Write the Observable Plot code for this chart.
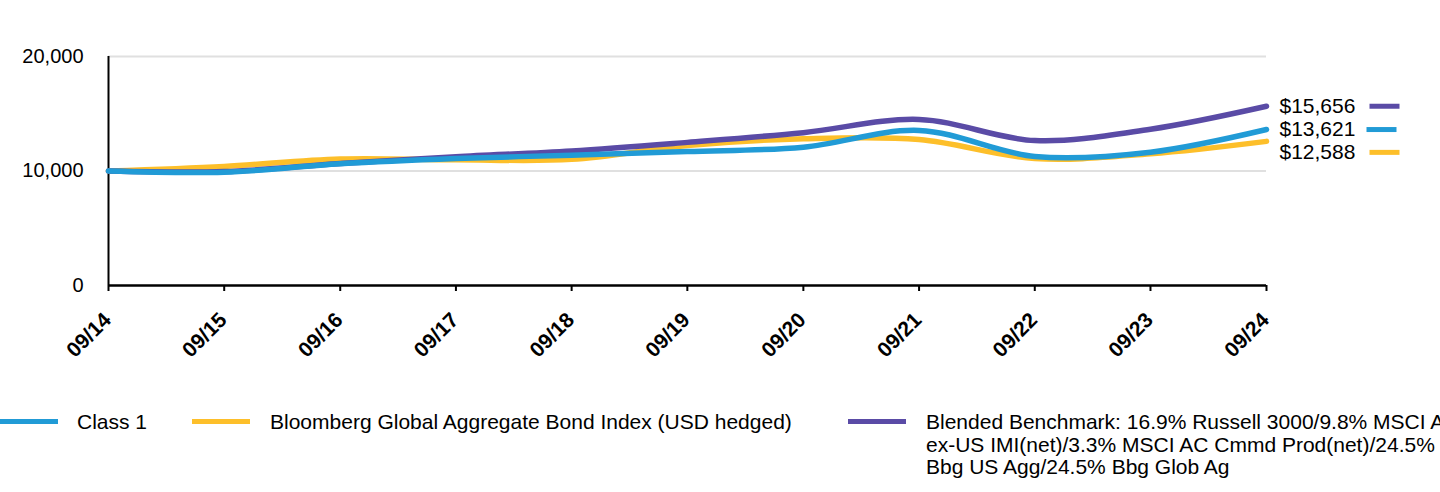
<!DOCTYPE html>
<html>
<head>
<meta charset="utf-8">
<script src="https://cdn.jsdelivr.net/npm/d3@7"></script>
<script src="https://cdn.jsdelivr.net/npm/@observablehq/plot@0.6"></script>
<style>
  html, body { margin: 0; padding: 0; background: #fff; }
  body { width: 1440px; height: 492px; overflow: hidden; position: relative; font-family: "Liberation Sans", Arial, sans-serif; }
  #chart { position: absolute; left: 0; top: 0; }
  .leg { position: absolute; font-size: 21px; line-height: 22.5px; color: #000; white-space: nowrap; }
  .sw { position: absolute; height: 5px; }
</style>
</head>
<body>
<div id="chart"></div>
<div class="sw" style="left:0px; top:419px; width:58px; background:#219bd6;"></div>
<div class="leg" style="left:77px; top:411px;">Class 1</div>
<div class="sw" style="left:192px; top:419px; width:58px; background:#fdbf2a;"></div>
<div class="leg" style="left:270px; top:411px;">Bloomberg Global Aggregate Bond Index (USD hedged)</div>
<div class="sw" style="left:848px; top:419px; width:58px; background:#5a4ba6;"></div>
<div class="leg" style="left:926px; top:411px;">Blended Benchmark: 16.9% Russell 3000/9.8% MSCI ACWI<br>ex-US IMI(net)/3.3% MSCI AC Cmmd Prod(net)/24.5%<br>Bbg US Agg/24.5% Bbg Glob Ag</div>
<script>
const dates = ["2014-09-30","2015-09-30","2016-09-30","2017-09-30","2018-09-30","2019-09-30","2020-09-30","2021-09-30","2022-09-30","2023-09-30","2024-09-30"];
const class1 =    [10000, 9900, 10630, 11090, 11380, 11700, 12080, 13540, 11270, 11640, 13621];
const bloomberg = [10000, 10400, 11050, 10980, 11020, 12230, 12810, 12750, 11090, 11500, 12588];
const blended =   [10000, 9950, 10650, 11250, 11750, 12500, 13350, 14500, 12660, 13650, 15656];
const yTicks = [0, 10000, 20000];
const seriesNames = ["Class 1", "Bloomberg Global Aggregate Bond Index (USD hedged)", "Blended Benchmark"];
const colors = ["#219bd6", "#fdbf2a", "#5a4ba6"];

const parse = d3.utcParse("%Y-%m-%d");
const X = dates.map(parse);
const toRows = (vals) => vals.map((v, i) => ({date: X[i], value: v}));
const rowsC = toRows(class1), rowsB = toRows(bloomberg), rowsBl = toRows(blended);
const last = (rows) => [rows[rows.length - 1]];

const barSymbol = { draw(ctx, size) { ctx.moveTo(-15, 0); ctx.lineTo(15, 0); } };
const fmtMoney = (v) => "$" + d3.format(",")(v);
const fmtTick = d3.utcFormat("%m/%y");

const chart = Plot.plot({
  width: 1440,
  height: 385,
  marginLeft: 108,
  marginRight: 174,
  marginTop: 56,
  marginBottom: 100,
  style: { fontFamily: "Liberation Sans, Arial, sans-serif", background: "#fff", color: "#000" },
  x: { type: "utc", domain: [X[0], X[X.length - 1]] },
  y: { domain: [0, 20000] },
  marks: [
    Plot.ruleY([10000, 20000], { x1: X[0], x2: X[X.length - 1], stroke: "#e0e0e0", strokeWidth: 2 }),
    Plot.ruleX([X[0]], { y1: 0, y2: 20000, stroke: "#000", strokeWidth: 2 }),
    Plot.ruleY([0], { x1: X[0], x2: X[X.length - 1], stroke: "#000", strokeWidth: 2.5 }),
    Plot.axisY({ ticks: yTicks, tickSize: 0, tickPadding: 25, tickFormat: d3.format(","), fontSize: 20, label: null }),
    Plot.axisX({ ticks: X, tickSize: 6, text: null, label: null, strokeWidth: 2 }),
    Plot.text(X, { x: d => d, y: () => 0, text: d => fmtTick(d), rotate: -45, textAnchor: "end", dx: -1, dy: 31, fontSize: 21, fontWeight: "bold", fill: "#000" }),
    Plot.line(rowsB, { x: "date", y: "value", stroke: colors[1], strokeWidth: 5.5, curve: "catmull-rom" }),
    Plot.line(rowsBl, { x: "date", y: "value", stroke: colors[2], strokeWidth: 5.5, curve: "catmull-rom" }),
    Plot.line(rowsC, { x: "date", y: "value", stroke: colors[0], strokeWidth: 5.5, curve: "catmull-rom" }),
    Plot.text(last(rowsBl), { x: "date", y: "value", text: d => fmtMoney(d.value), textAnchor: "start", dx: 13, fontSize: 21, fill: "#000" }),
    Plot.text(last(rowsC), { x: "date", y: "value", text: d => fmtMoney(d.value), textAnchor: "start", dx: 13, fontSize: 21, fill: "#000" }),
    Plot.text(last(rowsB), { x: "date", y: "value", text: d => fmtMoney(d.value), textAnchor: "start", dx: 13, dy: 11, fontSize: 21, fill: "#000" }),
    Plot.dot(last(rowsBl), { x: "date", y: "value", symbol: barSymbol, stroke: colors[2], strokeWidth: 5, dx: 118 }),
    Plot.dot(last(rowsC), { x: "date", y: "value", symbol: barSymbol, stroke: colors[0], strokeWidth: 5, dx: 115 }),
    Plot.dot(last(rowsB), { x: "date", y: "value", symbol: barSymbol, stroke: colors[1], strokeWidth: 5, dx: 118, dy: 11 })
  ]
});
document.getElementById("chart").appendChild(chart);
</script>
</body>
</html>
